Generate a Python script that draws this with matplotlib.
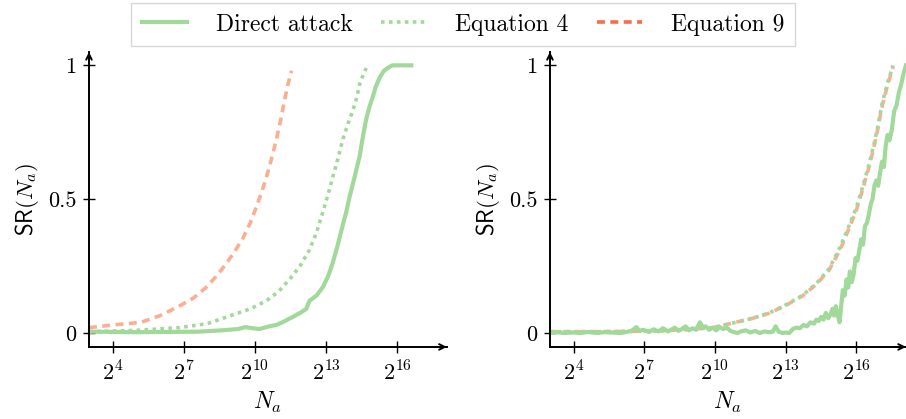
import numpy as np
import matplotlib
matplotlib.use("Agg")
import matplotlib.pyplot as plt
from matplotlib.lines import Line2D

plt.rcParams["font.family"] = "cmr10"
plt.rcParams["mathtext.fontset"] = "cm"
plt.rcParams["axes.unicode_minus"] = False

# ---------------- DATA (x stored as log2 of N_a) ----------------
# left panel
l_eq9_x = [3.0, 4.0, 5.2, 6.0, 6.8, 7.4, 7.94, 8.4, 8.8, 9.15, 9.47, 9.8, 10.06, 10.3, 10.48, 10.7, 10.9, 11.1, 11.25, 11.4, 11.55]
l_eq9_y = [0.02, 0.03, 0.04, 0.065, 0.10, 0.13, 0.17, 0.215, 0.26, 0.305, 0.35, 0.41, 0.47, 0.53, 0.58, 0.65, 0.72, 0.80, 0.87, 0.93, 0.98]

l_eq4_x = [3.0, 5.0, 6.8, 8.0, 9.04, 9.8, 10.48, 11.0, 11.46, 11.9, 12.3, 12.6, 12.86, 13.08, 13.28, 13.5, 13.7, 13.92, 14.13, 14.3, 14.42, 14.55, 14.7]
l_eq4_y = [0.005, 0.01, 0.02, 0.035, 0.067, 0.09, 0.12, 0.155, 0.20, 0.25, 0.31, 0.375, 0.45, 0.515, 0.58, 0.65, 0.72, 0.78, 0.83, 0.88, 0.93, 0.96, 0.99]

l_dir_x = [3.0, 5.0, 7.6, 8.6, 9.3, 9.6, 9.9, 10.2, 10.6, 10.9, 11.16, 11.6, 12.0, 12.17, 12.3, 12.6, 12.86, 13.08, 13.28, 13.5, 13.7, 13.85, 14.0, 14.2, 14.42, 14.55, 14.7, 14.85, 14.97, 15.1, 15.27, 15.45, 15.6, 15.8, 16.2, 16.6]
l_dir_y = [0.005, 0.003, 0.005, 0.01, 0.015, 0.022, 0.018, 0.015, 0.025, 0.03, 0.04, 0.06, 0.08, 0.09, 0.12, 0.14, 0.17, 0.21, 0.26, 0.33, 0.40, 0.45, 0.51, 0.58, 0.66, 0.73, 0.80, 0.85, 0.88, 0.92, 0.955, 0.98, 0.99, 1.0, 1.0, 1.0]

# right panel
r_eq_x = [3.0, 5.0, 7.38, 8.8, 9.9, 10.4, 10.88, 11.6, 12.3, 13.0, 13.7, 14.3, 14.84, 15.3, 15.68, 16.0, 16.24, 16.5, 16.73, 16.9, 17.07, 17.3, 17.55]
r_eq4_y = [0.005, 0.005, 0.007, 0.013, 0.02, 0.03, 0.04, 0.055, 0.075, 0.105, 0.14, 0.185, 0.24, 0.32, 0.40, 0.47, 0.54, 0.62, 0.70, 0.77, 0.85, 0.93, 1.0]
r_eq9_y = [0.005, 0.005, 0.007, 0.013, 0.02, 0.03, 0.04, 0.055, 0.074, 0.103, 0.138, 0.182, 0.235, 0.31, 0.39, 0.46, 0.53, 0.61, 0.69, 0.76, 0.84, 0.92, 0.995]

r_dir_x = [3.0, 3.3, 3.6, 4.0, 4.3, 4.6, 5.0, 5.3, 5.6, 6.0, 6.3, 6.5, 6.66, 6.8, 6.95, 7.2, 7.4, 7.6, 7.8, 8.0, 8.15, 8.3, 8.45, 8.6, 8.75, 8.9, 9.05, 9.2, 9.36, 9.5, 9.6, 9.75, 9.9, 10.05, 10.2, 10.35, 10.5, 10.65, 10.8, 10.95, 11.1, 11.3, 11.5, 11.7, 11.9, 12.1, 12.3, 12.45, 12.57, 12.7, 12.85, 13.0, 13.15, 13.3, 13.45, 13.6, 13.75, 13.9, 14.05, 14.2, 14.3, 14.4, 14.5, 14.6, 14.7, 14.8, 14.9, 14.98, 15.05, 15.12, 15.2, 15.28, 15.35, 15.42, 15.5, 15.58, 15.65, 15.72, 15.8, 15.88, 15.96, 16.04, 16.12, 16.2, 16.28, 16.36, 16.44, 16.52, 16.6, 16.68, 16.76, 16.84, 16.92, 17.0, 17.08, 17.16, 17.24, 17.32, 17.4, 17.5, 17.6, 17.7, 17.8, 17.9, 18.0, 18.1]
r_dir_y = [0.0, 0.003, 0.0, 0.002, 0.0, 0.004, 0.0, 0.003, 0.002, 0.0, 0.005, 0.01, 0.022, 0.008, 0.012, 0.004, 0.014, 0.006, 0.018, 0.006, 0.013, 0.02, 0.008, 0.015, 0.025, 0.01, 0.018, 0.012, 0.04, 0.02, 0.025, 0.012, 0.02, 0.01, 0.022, 0.015, 0.02, 0.008, 0.004, 0.0, 0.006, 0.01, 0.002, 0.008, 0.0, 0.006, 0.003, 0.005, 0.025, 0.005, 0.0, 0.002, 0.0, 0.015, 0.02, 0.018, 0.03, 0.025, 0.04, 0.035, 0.05, 0.045, 0.06, 0.05, 0.075, 0.055, 0.07, 0.09, 0.065, 0.1, 0.07, 0.04, 0.1, 0.16, 0.14, 0.2, 0.17, 0.23, 0.19, 0.22, 0.28, 0.27, 0.31, 0.35, 0.33, 0.40, 0.41, 0.44, 0.48, 0.5, 0.55, 0.57, 0.55, 0.6, 0.64, 0.62, 0.7, 0.74, 0.72, 0.76, 0.83, 0.85, 0.9, 0.93, 0.97, 1.0]

xticks_exp = [4, 7, 10, 13, 16]
yticks = [0, 0.5, 1]
yticklabels = ["0", "0.5", "1"]

GREEN = "#a1d99b"
RED = "#fb6a4a"
RED_LIGHT = "#fcae91"


def pw(exps):
    return np.power(2.0, np.array(exps, dtype=float))


def style_axes(ax):
    ax.set_xscale("log", base=2)
    ax.set_xlim(2 ** 3, 2 ** 18.1)
    ax.set_ylim(-0.052, 1.05)
    ax.set_xticks([2.0 ** e for e in xticks_exp])
    ax.set_xticklabels([r"$2^{%d}$" % e for e in xticks_exp])
    ax.xaxis.set_minor_locator(matplotlib.ticker.NullLocator())
    ax.set_yticks(yticks)
    ax.set_yticklabels(yticklabels)
    ax.tick_params(direction="inout", length=8, width=1.0, labelsize=16)
    ax.tick_params(axis="x", pad=6)
    ax.tick_params(axis="y", pad=5)
    for s in ["top", "right"]:
        ax.spines[s].set_visible(False)
    for s in ["left", "bottom"]:
        ax.spines[s].set_linewidth(1.4)
    ax.annotate("", xy=(1.0, 0), xytext=(0.97, 0), xycoords="axes fraction",
                arrowprops=dict(arrowstyle="->", lw=1.4, color="black",
                                shrinkA=0, shrinkB=0))
    ax.annotate("", xy=(0, 1.0), xytext=(0, 0.97), xycoords="axes fraction",
                arrowprops=dict(arrowstyle="->", lw=1.4, color="black",
                                shrinkA=0, shrinkB=0))
    ax.set_xlabel(r"$N_a$", fontsize=17, labelpad=4)
    ax.set_ylabel(r"$\mathsf{SR}(N_a)$", fontsize=16.5, labelpad=5)


fig = plt.figure(figsize=(9.06, 4.19), dpi=100)
ax1 = fig.add_axes([0.0982, 0.172, 0.395, 0.704])
ax2 = fig.add_axes([0.607, 0.172, 0.393, 0.704])

DASH = (0, (2.2, 1.5))
DOT = (0, (1, 1.2))

# left
ax1.plot(pw(l_eq9_x), l_eq9_y, color=RED_LIGHT, lw=2.6, linestyle=DASH)
ax1.plot(pw(l_eq4_x), l_eq4_y, color=GREEN, lw=2.6, linestyle=DOT)
ax1.plot(pw(l_dir_x), l_dir_y, color=GREEN, lw=3.0)
style_axes(ax1)

# right
ax2.plot(pw(r_eq_x), r_eq9_y, color=RED_LIGHT, lw=2.6, linestyle=DASH)
ax2.plot(pw(r_eq_x), r_eq4_y, color=GREEN, lw=2.6, linestyle=DOT)
ax2.plot(pw(r_dir_x), r_dir_y, color=GREEN, lw=3.0)
style_axes(ax2)

handles = [
    Line2D([], [], color=GREEN, lw=3.0),
    Line2D([], [], color=GREEN, lw=2.6, linestyle=DOT),
    Line2D([], [], color=RED, lw=2.6, linestyle=DASH),
]
labels = ["Direct attack", "Equation 4", "Equation 9"]
leg = fig.legend(handles, labels, loc="upper center", bbox_to_anchor=(0.511, 1.0),
                 ncol=3, fontsize=17, frameon=True, fancybox=False,
                 handlelength=1.9, handletextpad=1.23, columnspacing=1.2,
                 borderpad=0.45, borderaxespad=0.12)
leg.get_frame().set_edgecolor("#cccccc")
leg.get_frame().set_linewidth(1.0)

fig.savefig("out.png", dpi=100)
